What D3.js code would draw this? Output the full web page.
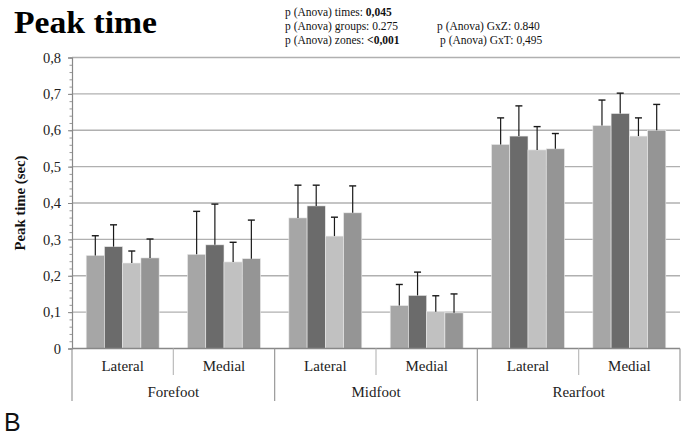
<!DOCTYPE html>
<html>
<head>
<meta charset="utf-8">
<script src="https://cdn.jsdelivr.net/npm/d3@7"></script>
<style>
  html, body { margin: 0; padding: 0; background: #fff; }
  svg { display: block; }
  svg text { font-family: "Liberation Serif", "Times New Roman", serif; }
  svg text.sans { font-family: "Liberation Sans", Arial, sans-serif; }
</style>
</head>
<body>
<svg id="chart" width="688" height="435"></svg>
<script>
// Foot regions and zones
const regions = ["Forefoot", "Midfoot", "Rearfoot"];
const zones = ["Lateral", "Medial"];
const series = ["s1", "s2", "s3", "s4"];
const seriesColors = ["#a6a6a6", "#6b6b6b", "#c1c1c1", "#959595"];

// Mean peak time (sec), one array per series, ordered
// Forefoot L, Forefoot M, Midfoot L, Midfoot M, Rearfoot L, Rearfoot M
const means1 = [0.256, 0.259, 0.359, 0.118, 0.561, 0.613];
const means2 = [0.280, 0.285, 0.392, 0.146, 0.584, 0.646];
const means3 = [0.235, 0.238, 0.309, 0.101, 0.546, 0.584];
const means4 = [0.249, 0.247, 0.373, 0.098, 0.549, 0.600];

// Upper end of each error bar (mean + SD)
const upper1 = [0.310, 0.377, 0.449, 0.176, 0.634, 0.683];
const upper2 = [0.340, 0.397, 0.449, 0.210, 0.667, 0.702];
const upper3 = [0.268, 0.292, 0.361, 0.145, 0.610, 0.634];
const upper4 = [0.301, 0.353, 0.447, 0.150, 0.591, 0.671];

const yTicks = [0, 0.1, 0.2, 0.3, 0.4, 0.5, 0.6, 0.7, 0.8];
const yTickLabels = ["0", "0,1", "0,2", "0,3", "0,4", "0,5", "0,6", "0,7", "0,8"];
const yMinorTicks = d3.range(0, 0.8001, 0.02);

const statsLeft = [
  ["p (Anova) times: ", "0,045"],
  ["p (Anova) groups: 0.275", ""],
  ["p (Anova) zones: ", "<0,001"]
];
const statsRight = ["p (Anova) GxZ: 0.840", "p (Anova) GxT: 0,495"];

const allMeans = [means1, means2, means3, means4];
const allUpper = [upper1, upper2, upper3, upper4];

const svg = d3.select("#chart");
const margin = { left: 72, right: 680, top: 57.5, bottom: 348.5 };

const cells = [];
regions.forEach(r => zones.forEach(z => cells.push(r + "|" + z)));

const x = d3.scaleBand().domain(cells).range([margin.left, margin.right])
  .paddingInner(0.28).paddingOuter(0.14);
const xs = d3.scaleBand().domain(series).range([0, x.bandwidth()]);
const y = d3.scaleLinear().domain([0, 0.8]).range([margin.bottom, margin.top]);

// Horizontal gridlines
svg.append("g").selectAll("line").data(yTicks.filter(d => d > 0)).join("line")
  .attr("x1", margin.left).attr("x2", margin.right)
  .attr("y1", d => y(d)).attr("y2", d => y(d))
  .attr("stroke", "#b0b0b0").attr("stroke-width", 1.3);

// Y axis with minor ticks
const yAxis = svg.append("g").attr("transform", `translate(${margin.left},0)`);
yAxis.call(d3.axisLeft(y).tickValues(yMinorTicks).tickSize(2.5).tickFormat(""))
  .call(g => g.select(".domain").remove())
  .call(g => g.selectAll("line").attr("stroke", "#999"));
const yMajor = svg.append("g").attr("transform", `translate(${margin.left},0)`);
yMajor.call(d3.axisLeft(y).tickValues(yTicks).tickSize(4).tickPadding(7)
    .tickFormat((d, i) => yTickLabels[i]))
  .attr("font-family", null)
  .call(g => g.select(".domain").attr("stroke", "#888").attr("stroke-width", 1.2))
  .call(g => g.selectAll("line").attr("stroke", "#888"))
  .call(g => g.selectAll("text")
    .style("font-family", "'Liberation Serif', 'Times New Roman', serif")
    .attr("font-size", 14.5).attr("fill", "#222"));

// Bars and error bars
series.forEach((s, si) => {
  const g = svg.append("g");
  g.selectAll("rect").data(cells).join("rect")
    .attr("x", c => x(c) + xs(s))
    .attr("width", xs.bandwidth())
    .attr("y", (c, i) => y(allMeans[si][i]))
    .attr("height", (c, i) => y(0) - y(allMeans[si][i]))
    .attr("fill", seriesColors[si])
    .attr("stroke", "#ececec").attr("stroke-width", 0.6);
  const cx = c => x(c) + xs(s) + xs.bandwidth() / 2;
  g.selectAll("line.err").data(cells).join("line").attr("class", "err")
    .attr("x1", cx).attr("x2", cx)
    .attr("y1", (c, i) => y(allMeans[si][i]))
    .attr("y2", (c, i) => y(allUpper[si][i]))
    .attr("stroke", "#1a1a1a").attr("stroke-width", 1.2);
  g.selectAll("line.cap").data(cells).join("line").attr("class", "cap")
    .attr("x1", c => cx(c) - 3.5).attr("x2", c => cx(c) + 3.5)
    .attr("y1", (c, i) => y(allUpper[si][i]))
    .attr("y2", (c, i) => y(allUpper[si][i]))
    .attr("stroke", "#1a1a1a").attr("stroke-width", 1.4);
});

// X axis baseline
svg.append("line")
  .attr("x1", margin.left).attr("x2", margin.right)
  .attr("y1", y(0)).attr("y2", y(0))
  .attr("stroke", "#888").attr("stroke-width", 1.3);

// Category separators: short between zones, long between regions
const step = x.step();
const edges = d3.range(cells.length + 1).map(i => x(cells[0]) - x.paddingOuter() * step + i * step);
svg.append("g").selectAll("line").data(edges).join("line")
  .attr("x1", d => d).attr("x2", d => d)
  .attr("y1", y(0))
  .attr("y2", (d, i) => i % 2 === 0 ? 401 : 375)
  .attr("stroke", (d, i) => i % 2 === 0 ? "#999" : "#bbb")
  .attr("stroke-width", 1.2);

// Zone labels
svg.append("g").selectAll("text").data(cells).join("text")
  .attr("x", c => x(c) + x.bandwidth() / 2)
  .attr("y", 371)
  .attr("text-anchor", "middle")
  .attr("font-size", 15).attr("fill", "#222")
  .text(c => c.split("|")[1]);

// Region labels
svg.append("g").selectAll("text").data(regions).join("text")
  .attr("x", (r, i) => (edges[i * 2] + edges[i * 2 + 2]) / 2)
  .attr("y", 397)
  .attr("text-anchor", "middle")
  .attr("font-size", 15).attr("fill", "#222")
  .text(r => r);

// Y axis title
svg.append("text")
  .attr("transform", "translate(25,203) rotate(-90)")
  .attr("text-anchor", "middle")
  .attr("font-size", 14.5).attr("font-weight", "bold").attr("fill", "#111")
  .attr("textLength", 95).attr("lengthAdjust", "spacingAndGlyphs")
  .text("Peak time (sec)");

// Chart title
svg.append("text")
  .attr("x", 14).attr("y", 33)
  .attr("font-size", 32).attr("font-weight", "bold").attr("fill", "#000")
  .attr("textLength", 143).attr("lengthAdjust", "spacingAndGlyphs")
  .text("Peak time");

// ANOVA summary
const statsG = svg.append("g").attr("font-size", 11.5).attr("fill", "#111");
statsLeft.forEach((p, i) => {
  const t = statsG.append("text").attr("x", 285).attr("y", 16 + i * 14);
  t.append("tspan").text(p[0]);
  if (p[1]) t.append("tspan").attr("font-weight", "bold").text(p[1]);
});
statsRight.forEach((p, i) => {
  statsG.append("text").attr("x", i === 0 ? 437 : 440).attr("y", 30 + i * 14).text(p);
});

// Panel letter
svg.append("text").attr("class", "sans")
  .attr("x", 4).attr("y", 431)
  .attr("font-size", 25).attr("fill", "#111")
  .text("B");
</script>
</body>
</html>
